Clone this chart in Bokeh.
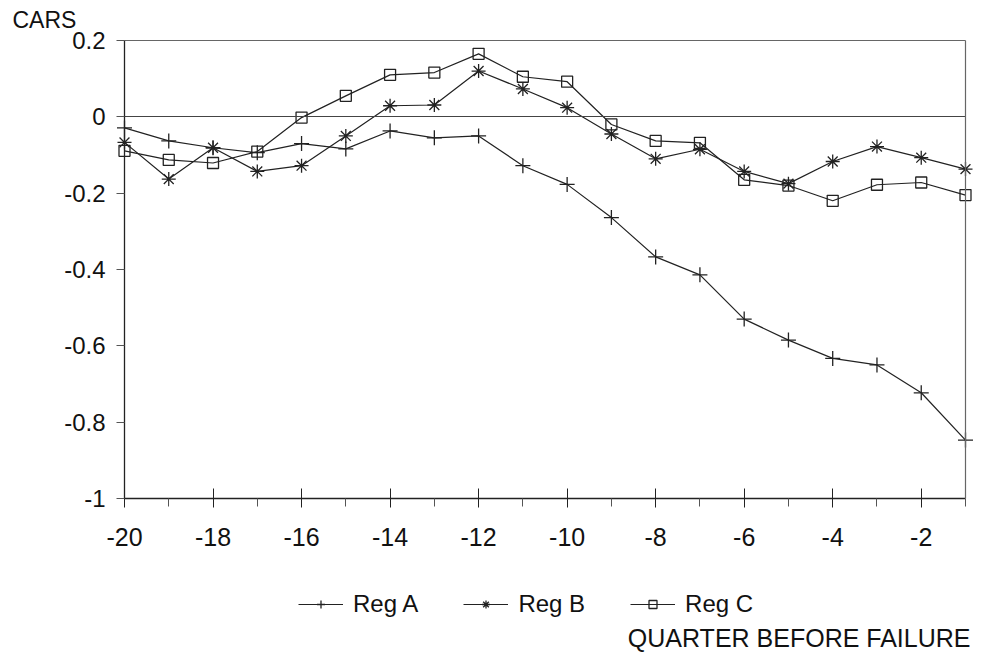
from bokeh.plotting import figure
from bokeh.models import Range1d, FixedTicker, CustomJSTickFormatter, LinearAxis, Label
from bokeh.embed import file_html
from bokeh.resources import INLINE

quarters = [-20, -19, -18, -17, -16, -15, -14, -13, -12, -11,
            -10, -9, -8, -7, -6, -5, -4, -3, -2, -1]
reg_a = [-0.029, -0.063, -0.081, -0.094, -0.070, -0.084, -0.037, -0.055, -0.050, -0.128,
         -0.177, -0.264, -0.367, -0.414, -0.530, -0.585, -0.633, -0.650, -0.723, -0.847]
reg_b = [-0.067, -0.163, -0.081, -0.143, -0.128, -0.050, 0.029, 0.031, 0.120, 0.073,
         0.024, -0.045, -0.110, -0.085, -0.143, -0.175, -0.117, -0.078, -0.107, -0.137]
reg_c = [-0.089, -0.113, -0.121, -0.091, -0.002, 0.055, 0.110, 0.116, 0.165, 0.105,
         0.092, -0.020, -0.063, -0.068, -0.165, -0.180, -0.220, -0.178, -0.172, -0.205]
series_names = ["Reg A", "Reg B", "Reg C"]
x_major_ticks = [-20, -18, -16, -14, -12, -10, -8, -6, -4, -2]
x_minor_ticks = [-19, -17, -15, -13, -11, -9, -7, -5, -3, -1]
y_ticks = [-1.0, -0.8, -0.6, -0.4, -0.2, 0.0, 0.2]
x_min, x_max = -20, -1
y_min, y_max = -1.0, 0.2
zero_level = 0.0

FONT = "Liberation Sans"
INK = "#222222"
TXT = "#111111"
BORDER = "#666666"

# The drawing frame covers the whole canvas (so nothing is clipped); the
# axes are pinned to the plot box edges with fixed_location / bounds.
W, H = 978, 652
box_left, box_right, box_top, box_bottom = 124, 965, 40, 498
px_x = (box_right - box_left) / (x_max - x_min)
px_y = (box_bottom - box_top) / (y_max - y_min)
xr = Range1d(x_min - box_left / px_x, x_max + (W - box_right) / px_x)
yr = Range1d(y_min - (H - box_bottom) / px_y, y_max + box_top / px_y)

p = figure(width=W, height=H, output_backend="svg", toolbar_location=None,
           x_range=xr, y_range=yr, min_border=0)
p.outline_line_color = None
p.background_fill_color = "white"
p.border_fill_color = "white"
p.grid.visible = False

# x axis at y = -1
xa = p.xaxis[0]
xa.fixed_location = y_min
xa.bounds = (x_min, x_max)
xa.ticker = FixedTicker(ticks=x_major_ticks, minor_ticks=x_minor_ticks)
xa.formatter = CustomJSTickFormatter(code="return tick.toFixed(0);")
xa.major_tick_in = 10
xa.major_tick_out = 9
xa.minor_tick_in = 0
xa.minor_tick_out = 8
xa.axis_line_color = INK
xa.axis_line_width = 1.3
xa.major_tick_line_color = INK
xa.minor_tick_line_color = "#555555"
xa.major_label_text_font = FONT
xa.major_label_text_font_size = "25px"
xa.major_label_text_color = TXT
xa.major_label_standoff = 20

# y axis at x = -20
ya = p.yaxis[0]
ya.fixed_location = x_min
ya.bounds = (y_min, y_max)
ya.ticker = FixedTicker(ticks=y_ticks, minor_ticks=[])
ya.formatter = CustomJSTickFormatter(code="""
    if (Math.abs(tick) < 1e-9) { return "0"; }
    return tick.toFixed(1).replace(/\\.0$/, "");
""")
ya.major_tick_in = 0
ya.major_tick_out = 8
ya.minor_tick_out = 0
ya.axis_line_color = INK
ya.axis_line_width = 1.3
ya.major_tick_line_color = "#555555"
ya.major_label_text_font = FONT
ya.major_label_text_font_size = "24px"
ya.major_label_text_color = TXT
ya.major_label_standoff = 11

# top and right borders of the plot box, and the zero line
def plain_axis(loc, bnds, color):
    return LinearAxis(ticker=FixedTicker(ticks=[], minor_ticks=[]), fixed_location=loc,
                      bounds=bnds, axis_line_color=color, axis_line_width=1.2,
                      major_tick_line_color=None, minor_tick_line_color=None,
                      major_tick_in=0, major_tick_out=0, minor_tick_in=0,
                      minor_tick_out=0, major_label_standoff=0)

p.add_layout(plain_axis(y_max, (x_min, x_max), BORDER), "above")
p.add_layout(plain_axis(x_max, (y_min, y_max), BORDER), "right")
p.add_layout(plain_axis(zero_level, (x_min, x_max), "#444444"), "below")

markers = ["cross", "asterisk", "square"]
sizes = [15, 14, 11]
for ys, name, mk, sz in zip([reg_a, reg_b, reg_c], series_names, markers, sizes):
    p.line(quarters, ys, line_color=INK, line_width=1.2, legend_label=name)
    p.scatter(quarters, ys, marker=mk, size=sz, line_color=INK, line_width=1.3,
              fill_color=None, legend_label=name)

lg = p.legend[0]
lg.orientation = "horizontal"
lg.location = (298, 34)
lg.border_line_alpha = 0
lg.background_fill_alpha = 0
lg.padding = 0
lg.margin = 0
lg.spacing = 45
lg.glyph_width = 45
lg.glyph_height = 20
lg.label_standoff = 10
lg.label_text_font = FONT
lg.label_text_font_size = "24px"
lg.label_text_color = TXT

p.add_layout(Label(x=xr.start + 12 / px_x, y=y_max + 21 / px_y, text="CARS",
                   text_align="left", text_baseline="middle", text_font=FONT,
                   text_font_size="23px", text_color=TXT))
p.add_layout(Label(x=x_max + 5 / px_x, y=y_min - 139 / px_y, text="QUARTER BEFORE FAILURE",
                   text_align="right", text_baseline="middle", text_font=FONT,
                   text_font_size="25px", text_color=TXT))

open("out.html", "w").write(file_html(p, INLINE))
